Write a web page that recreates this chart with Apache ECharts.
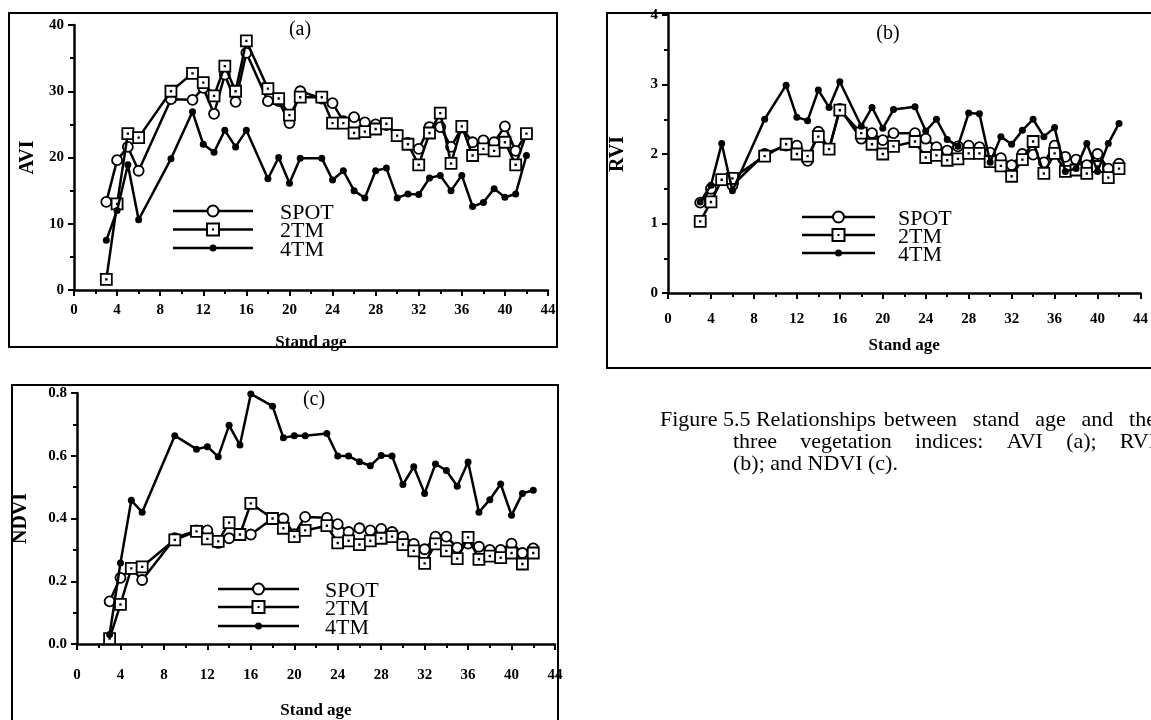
<!DOCTYPE html>
<html>
<head>
<meta charset="utf-8">
<title>Stand age and vegetation indices</title>
<script src="https://cdn.jsdelivr.net/npm/echarts@6/dist/echarts.min.js"></script>
<style>
  html, body { margin: 0; padding: 0; background: #fff; }
  #chart { width: 1151px; height: 720px; }
</style>
</head>
<body>
<div id="chart"></div>
<script>
// Stand ages (years) sampled in all three panels
const standAge = [3, 4, 5, 6, 9, 11, 12, 13, 14, 15, 16, 18, 19, 20, 21,
  23, 24, 25, 26, 27, 28, 29, 30, 31, 32, 33, 34, 35, 36, 37, 38, 39, 40, 41, 42];

// (a) AVI
const aviSpot = [13.3, 19.6, 21.6, 18.0, 28.8, 28.7, 30.5, 26.6, 32.5, 28.4, 35.8, 28.5, 28.5, 25.2, 30.0,
  28.9, 28.2, 25.5, 26.1, 25.3, 25.0, 24.9, 23.4, 22.2, 21.3, 24.6, 24.6, 21.6, 24.5, 22.3, 22.6, 22.3, 24.7, 21.0, 23.6];
const avi2tm = [1.6, 13.0, 23.6, 23.0, 30.0, 32.7, 31.3, 29.3, 33.8, 30.0, 37.6, 30.4, 28.9, 26.4, 29.1,
  29.1, 25.2, 25.2, 23.7, 23.9, 24.3, 25.1, 23.3, 22.0, 18.9, 23.7, 26.7, 19.1, 24.7, 20.3, 21.3, 21.0, 22.3, 18.9, 23.6];
const avi4tm = [7.5, 12.0, 18.9, 10.6, 19.8, 26.9, 22.0, 20.8, 24.1, 21.6, 24.1, 16.8, 20.0, 16.1, 19.9,
  19.9, 16.6, 18.0, 15.0, 13.9, 18.0, 18.4, 13.9, 14.5, 14.4, 16.9, 17.3, 15.0, 17.3, 12.6, 13.2, 15.3, 14.0, 14.5, 20.3];

// (b) RVI
const rviSpot = [1.30, 1.50, 1.62, 1.55, 2.00, 2.12, 2.12, 1.90, 2.32, 2.07, 2.65, 2.22, 2.30, 2.20, 2.30,
  2.30, 2.22, 2.10, 2.05, 2.11, 2.12, 2.10, 2.02, 1.94, 1.84, 2.00, 1.99, 1.88, 2.12, 1.96, 1.92, 1.84, 2.00, 1.79, 1.86];
const rvi2tm = [1.03, 1.31, 1.63, 1.65, 1.97, 2.14, 2.00, 1.97, 2.25, 2.07, 2.63, 2.30, 2.14, 2.00, 2.11,
  2.18, 1.95, 1.98, 1.91, 1.93, 2.01, 2.01, 1.89, 1.83, 1.68, 1.92, 2.18, 1.72, 2.01, 1.75, 1.77, 1.72, 1.82, 1.66, 1.79];
const rvi4tm = [1.31, 1.55, 2.15, 1.47, 2.50, 2.99, 2.53, 2.48, 2.92, 2.67, 3.04, 2.40, 2.67, 2.37, 2.64,
  2.68, 2.33, 2.50, 2.21, 2.11, 2.59, 2.58, 1.88, 2.25, 2.14, 2.34, 2.50, 2.25, 2.38, 1.75, 1.79, 2.15, 1.75, 2.15, 2.44];

// (c) NDVI
const ndviSpot = [0.136, 0.211, 0.240, 0.204, 0.337, 0.362, 0.362, 0.322, 0.337, 0.350, 0.349, 0.400, 0.400, 0.350, 0.405,
  0.402, 0.382, 0.357, 0.369, 0.362, 0.367, 0.357, 0.342, 0.319, 0.302, 0.342, 0.342, 0.307, 0.320, 0.310, 0.300, 0.300, 0.320, 0.290, 0.305];
const ndvi2tm = [0.017, 0.126, 0.241, 0.246, 0.332, 0.359, 0.335, 0.327, 0.387, 0.349, 0.448, 0.400, 0.369, 0.342, 0.362,
  0.377, 0.322, 0.329, 0.317, 0.329, 0.337, 0.342, 0.317, 0.297, 0.257, 0.319, 0.297, 0.272, 0.340, 0.270, 0.280, 0.275, 0.290, 0.255, 0.290];
const ndvi4tm = [0.030, 0.258, 0.458, 0.420, 0.664, 0.621, 0.629, 0.597, 0.697, 0.634, 0.797, 0.758, 0.657, 0.664, 0.664,
  0.671, 0.599, 0.599, 0.581, 0.568, 0.601, 0.599, 0.508, 0.565, 0.480, 0.574, 0.553, 0.503, 0.580, 0.420, 0.460, 0.510, 0.410, 0.480, 0.490];

const sensorNames = ['SPOT', '2TM', '4TM'];
const xTicks = { min: 0, max: 44, interval: 4 };

const SERIF = '"Liberation Serif", "DejaVu Serif", serif';
const INK = '#000';
const CAPTION_FONT = '22px ' + SERIF;
// open square with a small centre dot
const SQUARE_DOT = 'path://M0,0L10,0L10,10L0,10Z M4.75,4.75L5.25,4.75L5.25,5.25L4.75,5.25Z';

const markerStyle = {
  SPOT: { symbol: 'circle', symbolSize: 10, itemStyle: { color: '#fff', borderColor: INK, borderWidth: 1.8 } },
  '2TM': { symbol: SQUARE_DOT, symbolSize: 11, itemStyle: { color: '#fff', borderColor: INK, borderWidth: 1.8 } },
  '4TM': { symbol: 'circle', symbolSize: 7, itemStyle: { color: INK, borderWidth: 0 } }
};

const panels = [
  { name: 'AVI', values: [aviSpot, avi2tm, avi4tm], yMin: 0, yMax: 40, yStep: 10, fmt: v => String(v),
    grid: { left: 74, top: 25, width: 474, height: 265 }, xLabelMargin: 13, xNameGap: 44, yNameGap: 36 },
  { name: 'RVI', values: [rviSpot, rvi2tm, rvi4tm], yMin: 0, yMax: 4, yStep: 1, fmt: v => String(v),
    grid: { left: 668, top: 15, width: 488, height: 278 }, xLabelMargin: 19, xNameGap: 44, yNameGap: 40 },
  { name: 'NDVI', values: [ndviSpot, ndvi2tm, ndvi4tm], yMin: 0, yMax: 0.8, yStep: 0.2, fmt: v => v.toFixed(1),
    grid: { left: 77, top: 393, width: 478, height: 265 }, xLabelMargin: 24, xNameGap: 58, yNameGap: 46 }
];

const axisLineStyle = { color: INK, width: 2.5 };
const tickStyle = { color: INK, width: 2 };

const grids = [], xAxes = [], yAxes = [], series = [];
panels.forEach((p, gi) => {
  grids.push(Object.assign({ containLabel: false }, p.grid));
  xAxes.push({
    gridIndex: gi, type: 'value', min: xTicks.min, max: xTicks.max, interval: xTicks.interval,
    axisLine: { onZero: false, lineStyle: axisLineStyle },
    axisTick: { length: 6, lineStyle: tickStyle },
    minorTick: { show: true, splitNumber: 2, length: 4, lineStyle: tickStyle },
    splitLine: { show: false },
    axisLabel: { color: INK, fontFamily: SERIF, fontWeight: 'bold', fontSize: 15, margin: p.xLabelMargin },
    name: 'Stand age', nameLocation: 'middle', nameGap: p.xNameGap,
    nameTextStyle: { color: INK, fontFamily: SERIF, fontWeight: 'bold', fontSize: 17 }
  });
  yAxes.push({
    gridIndex: gi, type: 'value', min: p.yMin, max: p.yMax, interval: p.yStep,
    axisLine: { show: true, onZero: false, lineStyle: axisLineStyle },
    axisTick: { show: true, length: 6, lineStyle: tickStyle },
    minorTick: { show: true, splitNumber: 2, length: 4, lineStyle: tickStyle },
    splitLine: { show: false },
    axisLabel: { color: INK, fontFamily: SERIF, fontWeight: 'bold', fontSize: 15, margin: 10, formatter: p.fmt },
    name: p.name, nameLocation: 'middle', nameGap: p.yNameGap,
    nameTextStyle: { color: INK, fontFamily: SERIF, fontWeight: 'bold', fontSize: 20 }
  });
  sensorNames.forEach((s, si) => {
    const m = markerStyle[s];
    series.push({
      type: 'line', name: s, xAxisIndex: gi, yAxisIndex: gi,
      data: standAge.map((a, i) => [a, p.values[si][i]]),
      symbol: m.symbol, symbolSize: m.symbolSize, showAllSymbol: true,
      itemStyle: m.itemStyle,
      lineStyle: { color: INK, width: 2.5 },
      emphasis: { disabled: true },
      z: 2 + si
    });
  });
});

// Legend block: a line with the marker in its middle, name to the right
function legendBlock(x0, x1, rows, textX) {
  const els = [];
  const mid = (x0 + x1) / 2;
  sensorNames.forEach((s, i) => {
    const y = rows[i];
    els.push({ type: 'line', shape: { x1: x0, y1: y, x2: x1, y2: y }, style: { stroke: INK, lineWidth: 2.5 }, z: 10 });
    if (s === 'SPOT') {
      els.push({ type: 'circle', shape: { cx: mid, cy: y, r: 5.5 }, style: { fill: '#fff', stroke: INK, lineWidth: 2 }, z: 11 });
    } else if (s === '2TM') {
      els.push({ type: 'rect', shape: { x: mid - 6, y: y - 6, width: 12, height: 12 }, style: { fill: '#fff', stroke: INK, lineWidth: 2 }, z: 11 });
      els.push({ type: 'rect', shape: { x: mid - 1, y: y - 1, width: 2, height: 2 }, style: { fill: INK }, z: 12 });
    } else {
      els.push({ type: 'circle', shape: { cx: mid, cy: y, r: 3.5 }, style: { fill: INK }, z: 11 });
    }
    els.push({ type: 'text', x: textX, y: y + 2, style: { text: s, fill: INK, font: '22px ' + SERIF, verticalAlign: 'middle' }, z: 11 });
  });
  return els;
}

function frame(x, y, w, h) {
  return { type: 'rect', shape: { x, y, width: w, height: h }, style: { fill: 'none', stroke: INK, lineWidth: 2 }, z: 1 };
}
function label(text, x, y, size) {
  return { type: 'text', x, y, style: { text, fill: INK, font: size + 'px ' + SERIF, align: 'center', verticalAlign: 'middle' }, z: 5 };
}

// Caption lines are set justified: words spread evenly between a start and an end x
const measureCtx = document.createElement('canvas').getContext('2d');
measureCtx.font = CAPTION_FONT;
function justifiedLine(words, xStart, xEnd, y) {
  const widths = words.map(w => measureCtx.measureText(w).width);
  const total = widths.reduce((s, w) => s + w, 0);
  const gap = words.length > 1 ? (xEnd - xStart - total) / (words.length - 1) : 0;
  let x = xStart;
  return words.map((w, i) => {
    const el = { type: 'text', x, y, style: { text: w, fill: INK, font: CAPTION_FONT, verticalAlign: 'middle' }, z: 5 };
    x += widths[i] + gap;
    return el;
  });
}

const captionLead = 'Figure 5.5 Relationships';
const captionLine1 = ['between', 'stand', 'age', 'and', 'the'];
const captionLine2 = ['three', 'vegetation', 'indices:', 'AVI', '(a);', 'RVI'];
const captionLine3 = '(b); and NDVI (c).';

const leadWidth = measureCtx.measureText(captionLead).width;
const CAPTION_RIGHT = 1156;

const graphics = [
  frame(9, 13, 548, 334),
  frame(607, 13, 600, 355),
  frame(12, 385, 546, 345),
  label('(a)', 300, 30, 20),
  label('(b)', 888, 34, 20),
  label('(c)', 314, 400, 20),
  ...legendBlock(173, 253, [211, 229.5, 248], 280),
  ...legendBlock(802, 875, [217, 235, 253], 898),
  ...legendBlock(218, 299, [589, 607, 626], 325),
  { type: 'text', x: 660, y: 420, style: { text: captionLead, fill: INK, font: CAPTION_FONT, verticalAlign: 'middle' }, z: 5 },
  ...justifiedLine(captionLine1, 660 + leadWidth + 8, CAPTION_RIGHT, 420),
  ...justifiedLine(captionLine2, 733, CAPTION_RIGHT, 442),
  { type: 'text', x: 733, y: 464, style: { text: captionLine3, fill: INK, font: CAPTION_FONT, verticalAlign: 'middle' }, z: 5 }
];

const chart = echarts.init(document.getElementById('chart'), null, { renderer: 'canvas' });
chart.setOption({
  backgroundColor: '#fff',
  animation: false,
  grid: grids,
  xAxis: xAxes,
  yAxis: yAxes,
  series: series,
  graphic: graphics
});
</script>
</body>
</html>
